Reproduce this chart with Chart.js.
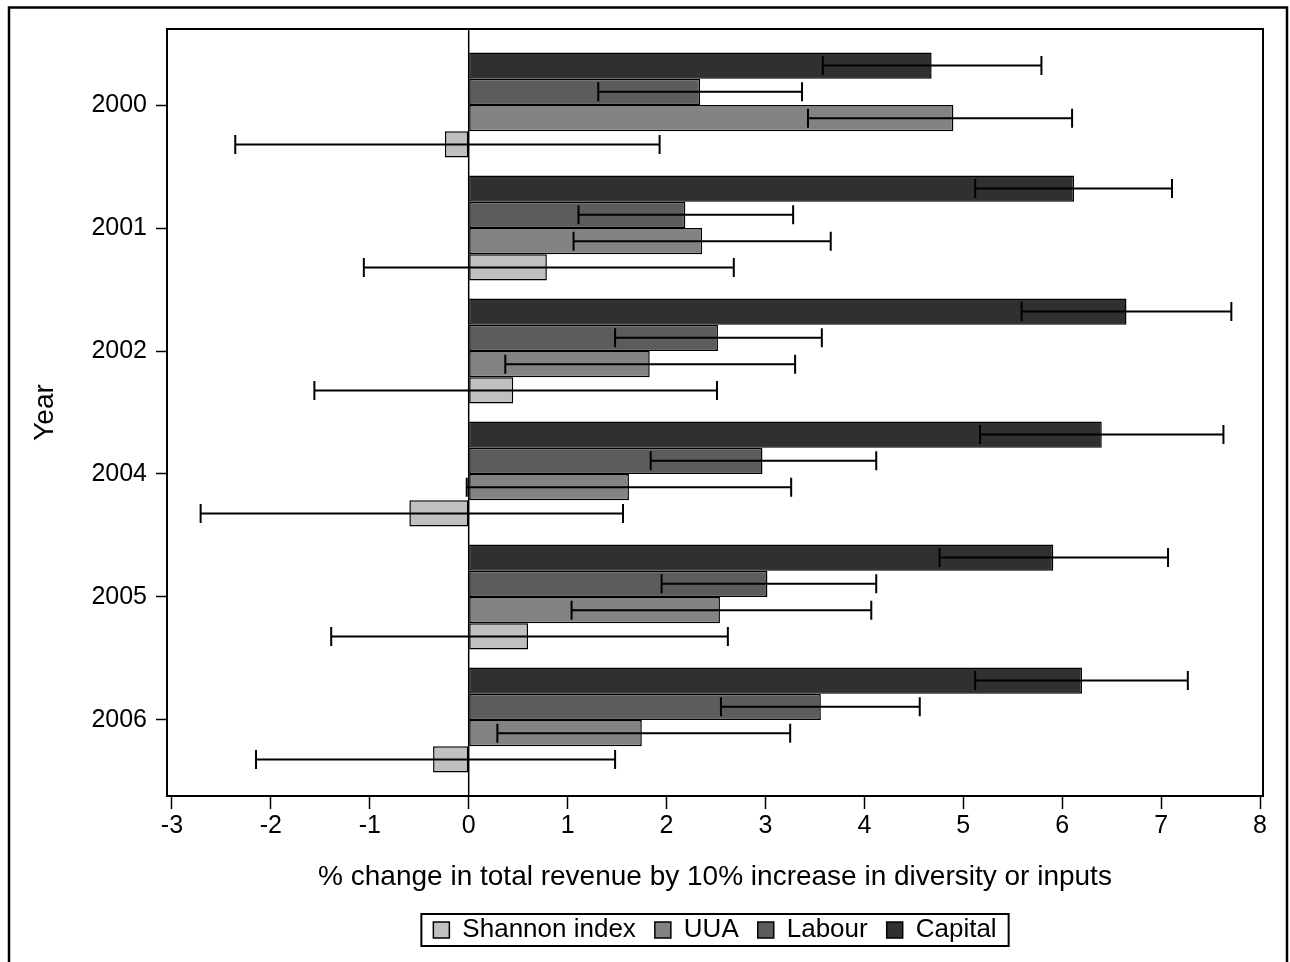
<!DOCTYPE html>
<html>
<head>
<meta charset="utf-8">
<script src="https://cdn.jsdelivr.net/npm/chart.js@4.4.1/dist/chart.umd.min.js"></script>
<style>
  html, body { margin: 0; padding: 0; background: #fff; }
  #wrap { width: 1290px; height: 962px; }
</style>
</head>
<body>
<div id="wrap"><canvas id="revChart" width="1290" height="962"></canvas></div>
<script>
// years on the vertical axis (top to bottom)
const years = ['2000', '2001', '2002', '2004', '2005', '2006'];
const xTicks = [-3, -2, -1, 0, 1, 2, 3, 4, 5, 6, 7, 8];

// % change in total revenue, with error bar ends
const capital     = [4.68, 6.12, 6.65, 6.40, 5.91, 6.20];
const capitalLow  = [3.58, 5.12, 5.59, 5.17, 4.76, 5.12];
const capitalHigh = [5.79, 7.11, 7.71, 7.63, 7.07, 7.27];

const labour      = [2.34, 2.19, 2.52, 2.97, 3.02, 3.56];
const labourLow   = [1.31, 1.11, 1.48, 1.84, 1.95, 2.55];
const labourHigh  = [3.37, 3.28, 3.57, 4.12, 4.12, 4.56];

const uua         = [4.90, 2.36, 1.83, 1.62, 2.54, 1.75];
const uuaLow      = [3.43, 1.06, 0.37, -0.02, 1.04, 0.29];
const uuaHigh     = [6.10, 3.66, 3.30, 3.26, 4.07, 3.25];

const shannon     = [-0.24, 0.79, 0.45, -0.60, 0.60, -0.36];
const shannonLow  = [-2.36, -1.06, -1.56, -2.71, -1.39, -2.15];
const shannonHigh = [1.93, 2.68, 2.51, 1.56, 2.62, 1.48];

const FONT = "'Liberation Sans', Arial, sans-serif";

function toPoints(vals) {
    return vals.map((v, i) => ({ x: v, y: i }));
}

// frame round the figure, plot box, zero line, error bars, legend box
const decor = {
    id: 'decor',
    afterLayout(chart) {
        // centre the legend under the plot area, not the whole canvas
        const lg = chart.legend;
        const a = chart.chartArea;
        if (lg) {
            lg.left = a.left;
            lg.right = a.right;
            lg.width = a.right - a.left;
        }
    },
    beforeDraw(chart) {
        const ctx = chart.ctx;
        ctx.save();
        ctx.fillStyle = '#fff';
        ctx.fillRect(0, 0, chart.width, chart.height);
        ctx.strokeStyle = '#000';
        ctx.lineWidth = 2.5;
        ctx.strokeRect(9, 7.5, 1278, 1000);
        ctx.restore();
    },
    beforeDatasetsDraw(chart) {
        const ctx = chart.ctx;
        const a = chart.chartArea;
        const x0 = chart.scales.x.getPixelForValue(0);
        ctx.save();
        ctx.strokeStyle = '#000';
        ctx.lineWidth = 1.5;
        ctx.beginPath();
        ctx.moveTo(x0, a.top);
        ctx.lineTo(x0, a.bottom);
        ctx.stroke();
        ctx.restore();
    },
    afterDatasetsDraw(chart) {
        const ctx = chart.ctx;
        const xs = chart.scales.x;
        ctx.save();
        ctx.strokeStyle = '#000';
        ctx.lineWidth = 2;
        chart.data.datasets.forEach((ds, d) => {
            const meta = chart.getDatasetMeta(d);
            meta.data.forEach((bar, i) => {
                const y = bar.y;
                const l = xs.getPixelForValue(ds.errLow[i]);
                const h = xs.getPixelForValue(ds.errHigh[i]);
                ctx.beginPath();
                ctx.moveTo(l, y); ctx.lineTo(h, y);
                ctx.moveTo(l, y - 9.5); ctx.lineTo(l, y + 9.5);
                ctx.moveTo(h, y - 9.5); ctx.lineTo(h, y + 9.5);
                ctx.stroke();
            });
        });
        const a = chart.chartArea;
        ctx.lineWidth = 2;
        ctx.strokeRect(a.left, a.top, a.right - a.left, a.bottom - a.top);
        ctx.restore();
    },
    afterDraw(chart) {
        const hb = chart.legend && chart.legend.legendHitBoxes;
        if (!hb || !hb.length) return;
        const ctx = chart.ctx;
        const left = Math.min(...hb.map(b => b.left)) - 12;
        const right = Math.max(...hb.map(b => b.left + b.width)) + 12;
        const mid = hb[0].top + hb[0].height / 2;
        ctx.save();
        ctx.strokeStyle = '#000';
        ctx.lineWidth = 2;
        ctx.strokeRect(left, mid - 16, right - left, 32);
        ctx.restore();
    }
};

new Chart(document.getElementById('revChart').getContext('2d'), {
    type: 'bar',
    data: {
        datasets: [
            { label: 'Capital', data: toPoints(capital), errLow: capitalLow, errHigh: capitalHigh, backgroundColor: '#303030' },
            { label: 'Labour', data: toPoints(labour), errLow: labourLow, errHigh: labourHigh, backgroundColor: '#5c5c5c' },
            { label: 'UUA', data: toPoints(uua), errLow: uuaLow, errHigh: uuaHigh, backgroundColor: '#838383' },
            { label: 'Shannon index', data: toPoints(shannon), errLow: shannonLow, errHigh: shannonHigh, backgroundColor: '#c0c0c0' }
        ]
    },
    options: {
        indexAxis: 'y',
        responsive: false,
        animation: false,
        datasets: {
            bar: {
                borderColor: '#000',
                borderWidth: 1.5,
                borderSkipped: false,
                categoryPercentage: 0.855,
                barPercentage: 1.0
            }
        },
        layout: { padding: { left: 0, top: 29, right: 27, bottom: 9 } },
        plugins: {
            legend: {
                position: 'bottom',
                reverse: true,
                labels: {
                    color: '#000',
                    font: { family: FONT, size: 26 },
                    boxWidth: 16,
                    boxHeight: 16,
                    padding: 19
                }
            },
            tooltip: { enabled: false }
        },
        scales: {
            x: {
                type: 'linear',
                min: -3.05,
                max: 8.03,
                afterBuildTicks: (s) => { s.ticks = xTicks.map(v => ({ value: v })); },
                afterFit: (s) => { s.height = 102; },
                grid: { drawOnChartArea: false, drawTicks: true, tickLength: 13, tickColor: '#000', tickWidth: 1.5 },
                border: { display: false },
                ticks: { color: '#000', font: { family: FONT, size: 25 }, padding: 2, maxRotation: 0 },
                title: {
                    display: true,
                    text: '% change in total revenue by 10% increase in diversity or inputs',
                    color: '#000',
                    font: { family: FONT, size: 28 },
                    padding: { top: 0, bottom: 4 }
                }
            },
            y: {
                type: 'linear',
                reverse: true,
                offset: false,
                min: -0.618,
                max: 5.618,
                afterBuildTicks: (s) => { s.ticks = years.map((_, i) => ({ value: i })); },
                afterFit: (s) => { s.width = 167; },
                grid: { offset: false, drawOnChartArea: false, drawTicks: true, tickLength: 11, tickColor: '#000', tickWidth: 1.5 },
                border: { display: false },
                ticks: {
                    color: '#000',
                    font: { family: FONT, size: 25 },
                    padding: 9,
                    callback: (v) => years[v]
                },
                title: {
                    display: true,
                    text: 'Year',
                    color: '#000',
                    font: { family: FONT, size: 28 },
                    padding: { top: 28, bottom: 0 }
                }
            }
        }
    },
    plugins: [decor]
});
</script>
</body>
</html>
